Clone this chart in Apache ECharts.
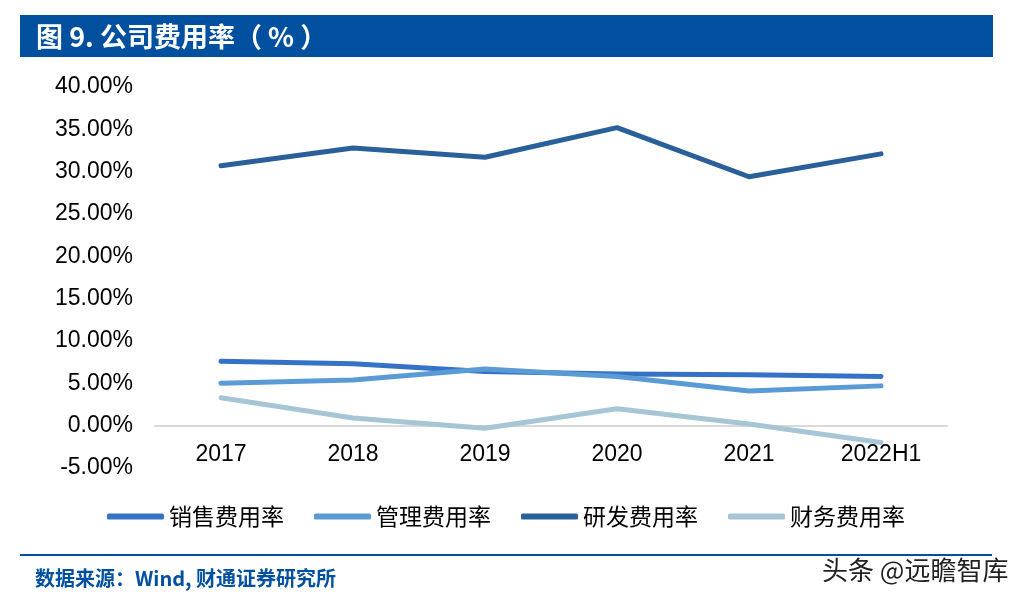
<!DOCTYPE html>
<html><head><meta charset="utf-8">
<script src="https://cdn.jsdelivr.net/npm/echarts@6/dist/echarts.min.js"></script>
<style>html,body{margin:0;padding:0;background:#fff}#c{width:1031px;height:599px}</style>
</head><body><div id="c"></div>
<script>
const categories = ['2017','2018','2019','2020','2021','2022H1'];
const sales = [7.6, 7.3, 6.4, 6.1, 6.0, 5.8];
const admin = [5.0, 5.4, 6.7, 5.8, 4.1, 4.7];
const rnd = [30.7, 32.8, 31.7, 35.2, 29.4, 32.1];
const fin = [3.3, 0.9, -0.3, 2.0, 0.2, -2.0];
const seriesNames = ['销售费用率','管理费用率','研发费用率','财务费用率'];
const colors = ['#3572c6','#5b9bd5','#29609a','#a7c6d5'];
const yTicks = {min: -5, max: 40, interval: 5};

const chart = echarts.init(document.getElementById('c'));
const dataArr = [sales, admin, rnd, fin];
chart.setOption({
  animation: false,
  grid: {left: 155, right: 84, top: 87, bottom: 131, containLabel: false},
  xAxis: {
    type: 'category', data: categories, boundaryGap: true,
    axisLine: {onZero: true, lineStyle: {color: '#d9d9d9', width: 2}},
    axisTick: {show: false},
    axisLabel: {color: '#000', fontSize: 23, fontFamily: 'Liberation Sans, Arial', margin: -25}
  },
  yAxis: {
    type: 'value', min: yTicks.min, max: yTicks.max, interval: yTicks.interval,
    axisLine: {show: false}, axisTick: {show: false}, splitLine: {show: false},
    axisLabel: {color: '#000', fontSize: 23, fontFamily: 'Liberation Sans, Arial', margin: 22,
      formatter: v => v.toFixed(2) + '%'}
  },
  legend: {
    data: seriesNames, top: 500, left: 102, itemWidth: 57, itemHeight: 6, itemGap: 30,
    icon: 'roundRect',
    textStyle: {fontSize: 23, color: '#000', fontFamily: 'Noto Sans CJK SC'}
  },
  series: seriesNames.map((n, i) => ({
    name: n, type: 'line', data: dataArr[i], symbol: 'none',
    lineStyle: {color: colors[i], width: 5, cap: 'round', join: 'round'},
    itemStyle: {color: colors[i]},
    z: i === 2 ? 3 : 2
  })),
  graphic: [
    {type: 'rect', shape: {x: 20, y: 15, width: 973, height: 42}, style: {fill: '#0050a0'}},
    {type: 'text', x: 36, y: 37, style: {text: '图 9. 公司费用率（ % ）', fill: '#fff', fontSize: 27, fontWeight: 'bold',
      fontFamily: 'Noto Sans CJK SC', textVerticalAlign: 'middle'}},
    {type: 'rect', shape: {x: 20, y: 554, width: 972, height: 2}, style: {fill: '#0050a0'}},
    {type: 'text', x: 35, y: 578, style: {text: '数据来源：Wind, 财通证券研究所', fill: '#0050a0', fontSize: 20, fontWeight: 'bold',
      fontFamily: 'Noto Sans CJK SC', textVerticalAlign: 'middle'}},
    {type: 'text', x: 822, y: 570, style: {text: '头条 @远瞻智库', fill: '#222', fontSize: 26,
      fontFamily: 'Noto Sans CJK SC', textVerticalAlign: 'middle', stroke: '#fff', lineWidth: 2}}
  ]
});
</script></body></html>
